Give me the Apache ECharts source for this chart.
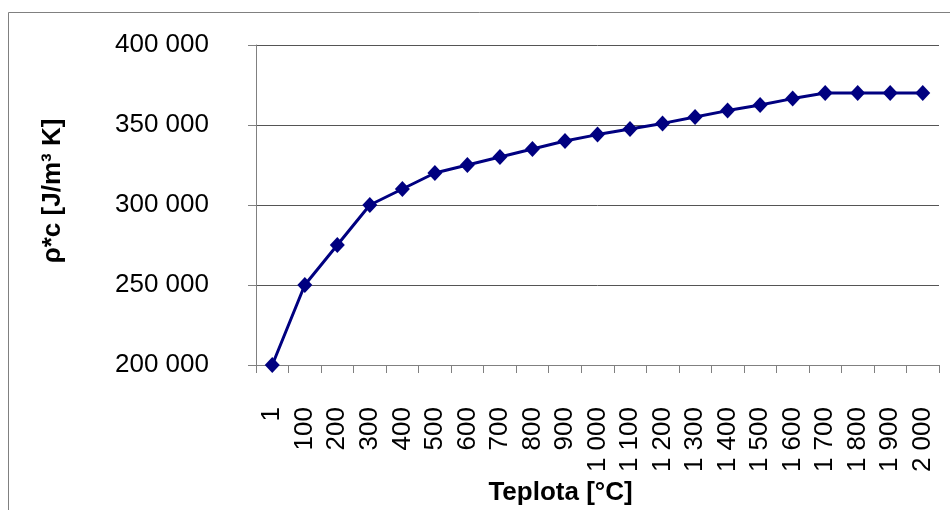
<!DOCTYPE html>
<html>
<head>
<meta charset="utf-8">
<script src="https://cdn.jsdelivr.net/npm/echarts@6/dist/echarts.min.js"></script>
<style>
html,body{margin:0;padding:0;background:#fff;}
#c{width:950px;height:510px;}
</style>
</head>
<body>
<div id="c"></div>
<script>
var categories = ['1','100','200','300','400','500','600','700','800','900','1 000','1 100','1 200','1 300','1 400','1 500','1 600','1 700','1 800','1 900','2 000'];
var rhoC = [200000,250000,275000,300000,310000,320000,325000,330000,335000,340000,344000,347500,351000,355000,359000,362500,366500,370000,370000,370000,370000];
var yTicks = {min:200000, max:400000, step:50000};

function fmt(v){
  return String(v).replace(/\B(?=(\d{3})+(?!\d))/g,' ');
}
var chart = echarts.init(document.getElementById('c'), null, {renderer:'canvas'});
chart.setOption({
  animation:false,
  backgroundColor:'#fff',
  textStyle:{fontFamily:'Liberation Sans, Arial, sans-serif'},
  graphic:[{
    type:'rect', shape:{x:8.5,y:12.5,width:960,height:520},
    style:{fill:'none',stroke:'#808080',lineWidth:1}, silent:true
  }],
  grid:{left:256,right:11,top:45,bottom:145,containLabel:false,outerBoundsMode:'none'},
  xAxis:{
    type:'category',
    data:categories,
    boundaryGap:true,
    axisLine:{lineStyle:{color:'#808080',width:1}},
    axisTick:{show:true,length:8,inside:false,lineStyle:{color:'#808080'}},
    axisLabel:{rotate:90,margin:42,color:'#000',fontSize:26,fontFamily:'Liberation Sans',interval:0},
    splitLine:{show:false},
    name:'Teplota [°C]',
    nameLocation:'middle',
    nameGap:113,
    nameTextStyle:{fontSize:26,fontWeight:'bold',color:'#000',fontFamily:'Liberation Sans',padding:[0,74,0,0]}
  },
  yAxis:{
    type:'value',
    min:yTicks.min,max:yTicks.max,interval:yTicks.step,
    axisLine:{show:true,lineStyle:{color:'#808080',width:1}},
    axisTick:{show:true,length:8,inside:false,lineStyle:{color:'#808080'}},
    axisLabel:{margin:47,color:'#000',fontSize:26,fontFamily:'Liberation Sans',formatter:fmt},
    splitLine:{show:true,lineStyle:{color:'#555',width:1}},
    name:'ρ*c [J/m³ K]',
    nameLocation:'middle',
    nameRotate:90,
    nameGap:190,
    nameTextStyle:{fontSize:26,fontWeight:'bold',color:'#000',fontFamily:'Liberation Sans',padding:[0,0,0,28]}
  },
  series:[{
    type:'line',
    data:rhoC,
    color:'#000080',
    lineStyle:{color:'#000080',width:3},
    itemStyle:{color:'#000080'},
    symbol:'diamond',
    symbolSize:[15,16],
    showAllSymbol:true
  }]
});
</script>
</body>
</html>
